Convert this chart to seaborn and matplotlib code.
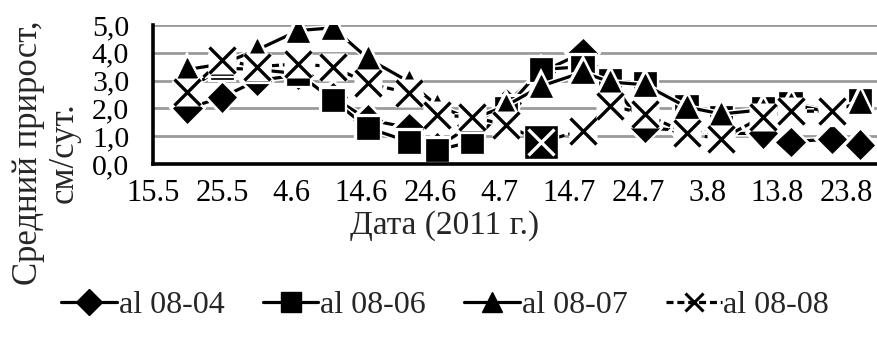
import numpy as np
import pandas as pd
import matplotlib
matplotlib.use("Agg")
import matplotlib.pyplot as plt
import matplotlib.patheffects as pe
from matplotlib.lines import Line2D
import seaborn as sns

# ---------------- data ----------------
dates = ["2011-05-20", "2011-05-25", "2011-05-30", "2011-06-05", "2011-06-10",
         "2011-06-15", "2011-06-21", "2011-06-25", "2011-06-30", "2011-07-05",
         "2011-07-10", "2011-07-16", "2011-07-20", "2011-07-25", "2011-07-31",
         "2011-08-05", "2011-08-11", "2011-08-15", "2011-08-21", "2011-08-25"]
al_08_04 = [2.0, 2.4, 3.0, 3.2, 2.4, 1.6, 1.3, 0.6, 1.4, 2.2,
            3.3, 4.0, 3.0, 1.3, 1.2, 1.1, 1.1, 0.8, 0.9, 0.7]
al_08_06 = [2.7, 3.45, 3.4, 3.25, 2.3, 1.3, 0.8, 0.5, 0.8, 2.0,
            3.4, 3.5, 3.0, 2.9, 2.1, 1.7, 2.0, 2.2, 1.9, 2.3]
al_08_07 = [3.4, 3.6, 4.1, 4.8, 4.9, 3.8, 2.95, 2.1, 1.6, 2.1,
            2.8, 3.3, 2.95, 2.85, 2.05, 1.8, 1.95, 2.15, 1.85, 2.25]
al_08_08 = [2.6, 3.75, 3.5, 3.6, 3.5, 2.9, 2.55, 1.75, 1.7, 1.4,
            0.8, 1.2, 2.1, 1.8, 1.1, 0.9, 1.7, 1.9, 1.9, np.nan]
series_names = ["al 08-04", "al 08-06", "al 08-07", "al 08-08"]
inverted_points_08 = [10]          # point drawn as black box with white cross
tick_dates = ["2011-05-15", "2011-05-25", "2011-06-04", "2011-06-14", "2011-06-24",
              "2011-07-04", "2011-07-14", "2011-07-24", "2011-08-03", "2011-08-13",
              "2011-08-23"]
tick_labels = ["15.5", "25.5", "4.6", "14.6", "24.6", "4.7", "14.7", "24.7",
               "3.8", "13.8", "23.8"]
y_ticks = [0, 1, 2, 3, 4, 5]
y_tick_labels = ["0,0", "1,0", "2,0", "3,0", "4,0", "5,0"]
x_title = "Дата (2011 г.)"
y_title = "Средний прирост,\nсм/сут."

# ---------------- style ----------------
sns.set_theme(style="white")
plt.rcParams["font.family"] = ["Liberation Serif", "DejaVu Serif"]
FS_Y = 21.5
FS_X = 22
FS_TITLE = 24
FS_LEG = 23

df = pd.DataFrame({"date": pd.to_datetime(dates),
                   "al 08-04": al_08_04, "al 08-06": al_08_06,
                   "al 08-07": al_08_07, "al 08-08": al_08_08})

fig = plt.figure(figsize=(8.77, 3.38), dpi=100)
ax = fig.add_axes([152.8 / 877, 1 - 164 / 338, 1 - 152.8 / 877, (164 - 25) / 338])

LW = 2.3
outline = [pe.Stroke(linewidth=LW + 2.2, foreground="white"), pe.Normal()]

styles = {
    "al 08-04": dict(marker="D", markersize=14.5),
    "al 08-06": dict(marker="s", markersize=16),
    "al 08-07": dict(marker="^", markersize=16),
}

z = 3
for name in ["al 08-04", "al 08-06", "al 08-07"]:
    st = styles[name]
    sns.lineplot(data=df, x="date", y=name, ax=ax, color="black",
                 linewidth=LW, marker=st["marker"], markersize=st["markersize"],
                 markerfacecolor="black", markeredgecolor="black",
                 markeredgewidth=0.5, zorder=z, path_effects=outline)
    z += 1

# X series: dashed line, white box behind black crosses
sns.lineplot(data=df, x="date", y="al 08-08", ax=ax, color="black",
             linewidth=LW, linestyle=(0, (2.2, 1.2)), zorder=z,
             path_effects=outline)
normal_idx = [i for i in range(len(dates)) if i not in inverted_points_08]
dn = df.iloc[normal_idx]
di = df.iloc[inverted_points_08]
ax.plot(dn["date"], dn["al 08-08"], ls="none", marker="s", markersize=20,
        markerfacecolor="white", markeredgecolor="none", zorder=z + 0.1)
ax.plot(dn["date"], dn["al 08-08"], ls="none", marker="x", markersize=19,
        markeredgecolor="black", markeredgewidth=2.4, zorder=z + 0.2)
ax.plot(di["date"], di["al 08-08"], ls="none", marker="s", markersize=24,
        markerfacecolor="black", markeredgecolor="white", markeredgewidth=1.0,
        zorder=z + 0.1)
ax.plot(di["date"], di["al 08-08"], ls="none", marker="x", markersize=19,
        markeredgecolor="white", markeredgewidth=2.4, zorder=z + 0.2)

# axes
ax.set_ylim(0, 5)
ax.set_xlim(pd.Timestamp("2011-05-15"), pd.Timestamp("2011-05-15") + pd.Timedelta(days=104.47))
ax.set_yticks(y_ticks)
ax.set_yticklabels(y_tick_labels, fontsize=FS_Y)
ax.set_xticks(pd.to_datetime(tick_dates))
ax.set_xticklabels(tick_labels, fontsize=FS_X)
ax.set_xlabel("")
ax.set_ylabel("")
ax.grid(axis="y", color="#9a9a9a", linewidth=2.0, zorder=0)
ax.set_axisbelow(True)
for s in ["top", "right"]:
    ax.spines[s].set_visible(False)
for s in ["left", "bottom"]:
    ax.spines[s].set_color("black")
    ax.spines[s].set_linewidth(2.6)
    ax.spines[s].set_zorder(10)
ax.tick_params(axis="both", direction="out", length=7, width=2.0, color="black",
               labelcolor="black")
ax.tick_params(axis="x", pad=4)
ax.tick_params(axis="y", pad=10)
ax.set_facecolor("white")

fig.text(445 / 877, 1 - 226 / 338, x_title, fontsize=FS_TITLE, ha="center", va="center")
fig.text(46 / 877, 1 - 153 / 338, y_title, fontsize=FS_TITLE + 1, ha="center", va="center",
         rotation=90, multialignment="center", linespacing=1.1)

# legend
handles = [
    Line2D([], [], color="black", lw=LW, marker="D", markersize=13, markerfacecolor="black"),
    Line2D([], [], color="black", lw=LW, marker="s", markersize=14, markerfacecolor="black"),
    Line2D([], [], color="black", lw=LW, marker="^", markersize=15, markerfacecolor="black"),
    Line2D([], [], color="black", lw=LW, ls=(0, (2.2, 1.2)), marker="x", markersize=13,
           markeredgewidth=2.2),
]
fig.legend(handles, series_names, loc="center", ncol=4,
           bbox_to_anchor=(445 / 877, 1 - 305 / 338), frameon=False, fontsize=FS_LEG,
           handlelength=1.75, handletextpad=0.05, columnspacing=1.2, borderpad=0)

fig.savefig("out.png", dpi=100, facecolor="white")
